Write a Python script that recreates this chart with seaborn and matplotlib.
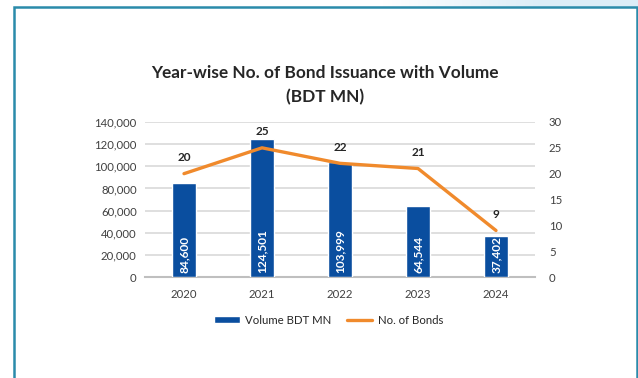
import numpy as np
import pandas as pd
import matplotlib
matplotlib.use("Agg")
import matplotlib.pyplot as plt
import seaborn as sns
from matplotlib.patches import Rectangle
from matplotlib.lines import Line2D

years = ["2020", "2021", "2022", "2023", "2024"]
volume_bdt_mn = [84600, 124501, 103999, 64544, 37402]
no_of_bonds = [20, 25, 22, 21, 9]
left_ticks = [0, 20000, 40000, 60000, 80000, 100000, 120000, 140000]
right_ticks = [0, 5, 10, 15, 20, 25, 30]

BLUE = "#0A4E9F"
ORANGE = "#F08A2C"
GRID = "#D9D9D9"
TEXT = "#404040"

sns.set_theme(style="white")
plt.rcParams["font.family"] = ["Lato", "DejaVu Sans"]

df = pd.DataFrame({"Year": years, "Volume": volume_bdt_mn, "Bonds": no_of_bonds})

fig = plt.figure(figsize=(6.38, 3.78), dpi=100)
fig.patch.set_facecolor("white")

# light blue strip along the top edge, fading in toward the right
strip = fig.add_axes([0, 1 - 7 / 378, 1, 7 / 378])
grad = np.linspace(0, 1, 256)
alpha = np.clip((grad - 0.6) / 0.25, 0, 1)
rgba = np.zeros((1, 256, 4))
rgba[..., 0] = 0.86
rgba[..., 1] = 0.93
rgba[..., 2] = 0.97
rgba[..., 3] = alpha
strip.imshow(rgba, aspect="auto", extent=[0, 1, 0, 1])
strip.axis("off")

# panel frame
frame = Rectangle((13.5 / 638, -0.01), (637 - 13.5) / 638, 1 - 7 / 378 + 0.01,
                  transform=fig.transFigure, fill=False,
                  edgecolor="#2A8BAA", linewidth=1.8)
fig.patches.append(frame)

ax = fig.add_axes([145 / 638, 1 - 277 / 378, (535 - 145) / 638, (277 - 122) / 378])
sns.barplot(data=df, x="Year", y="Volume", color=BLUE, width=0.31,
            saturation=1, ax=ax, zorder=3)
ax.set_ylim(0, 140000)
ax.set_yticks(left_ticks)
ax.set_yticklabels([f"{v:,}" for v in left_ticks])
ax.set_xlabel("")
ax.set_ylabel("")
ax.grid(axis="y", color=GRID, linewidth=1.2, zorder=0)
ax.set_axisbelow(True)
for s in ["top", "right", "left"]:
    ax.spines[s].set_visible(False)
ax.spines["bottom"].set_color("#BFBFBF")
ax.spines["bottom"].set_linewidth(1.5)
ax.tick_params(axis="both", length=0, labelsize=8.2, colors=TEXT, pad=6)
ax.tick_params(axis="x", pad=9)

for i, v in enumerate(volume_bdt_mn):
    ax.text(i, 4000, f"{v:,}", rotation=90, ha="center", va="bottom",
            color="white", fontsize=8.6, fontweight="bold", zorder=5)

ax2 = ax.twinx()
sns.lineplot(x=list(range(len(years))), y=no_of_bonds, color=ORANGE,
             linewidth=2.4, ax=ax2, zorder=4)
ax2.set_ylim(0, 30)
ax2.set_yticks(right_ticks)
ax2.set_ylabel("")
for s in ["top", "right", "left", "bottom"]:
    ax2.spines[s].set_visible(False)
ax2.tick_params(axis="y", length=0, labelsize=8.2, colors=TEXT, pad=10)
for i, n in enumerate(no_of_bonds):
    ax2.annotate(str(n), (i, n), xytext=(0, 7.5), textcoords="offset points",
                 ha="center", va="bottom", fontsize=8.5, fontweight="bold",
                 color="#262626")
ax.set_xlim(-0.5, len(years) - 0.5)

fig.text(325 / 638, 1 - 73 / 378, "Year-wise No. of Bond Issuance with Volume",
         ha="center", va="center", fontsize=12.4, fontweight="bold", color="#262626")
fig.text(325 / 638, 1 - 97 / 378, "(BDT MN)",
         ha="center", va="center", fontsize=12.4, fontweight="bold", color="#262626")

handles = [Rectangle((0, 0), 1, 1, facecolor=BLUE),
           Line2D([0], [0], color=ORANGE, linewidth=2.4)]
fig.legend(handles, ["Volume BDT MN", "No. of Bonds"], loc="center",
           bbox_to_anchor=(329 / 638, 1 - 320 / 378), ncol=2, frameon=False,
           fontsize=8.2, handlelength=2.2, handleheight=0.6, columnspacing=1.4,
           handletextpad=0.5, labelcolor="#262626")

fig.savefig("out.png", dpi=100)
